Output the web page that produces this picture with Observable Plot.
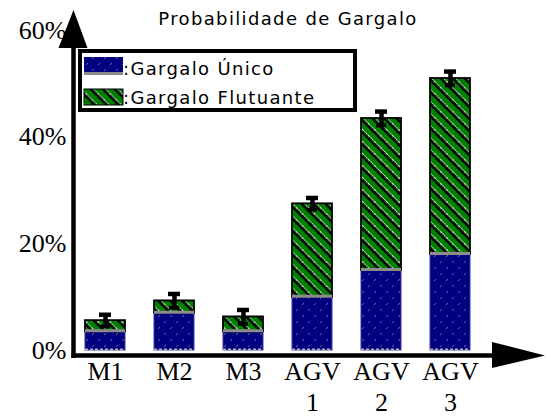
<!DOCTYPE html>
<html>
<head>
<meta charset="utf-8">
<script src="https://cdn.jsdelivr.net/npm/d3@7"></script>
<script src="https://cdn.jsdelivr.net/npm/@observablehq/plot@0.6"></script>
<style>
  html, body { margin: 0; padding: 0; background: #fff; }
  #chart { position: relative; width: 546px; height: 417px; }
</style>
</head>
<body>
<svg width="0" height="0" style="position:absolute">
  <defs>
    <pattern id="pBlue" width="12" height="12" patternUnits="userSpaceOnUse">
      <rect width="12" height="12" fill="#000080"/>
      <line x1="2" y1="5" x2="4" y2="3" stroke="#6a6a9a" stroke-width="1"/>
      <line x1="8" y1="11" x2="10" y2="9" stroke="#6a6a9a" stroke-width="1"/>
    </pattern>
    <pattern id="pGreen" width="8.5" height="8.5" patternUnits="userSpaceOnUse" patternTransform="rotate(-45)">
      <rect width="8.5" height="8.5" fill="#008000"/>
      <rect x="0" width="2.6" height="8.5" fill="#000"/>
      <line x1="3.2" y1="0" x2="3.2" y2="8.5" stroke="#fff" stroke-width="1.1" stroke-dasharray="1.2 1.2"/>
    </pattern>
  </defs>
</svg>
<div id="chart"></div>
<script>
const cats = ["M1", "M2", "M3", "AGV 1", "AGV 2", "AGV 3"];
const unico = [3.5, 7.0, 3.5, 10.0, 15.0, 18.0];
const flutuante = [2.1, 2.3, 2.8, 17.5, 28.5, 33.0];
const erro = [1.1, 1.3, 1.3, 1.1, 1.3, 1.3];
const yTicks = [0, 20, 40, 60];
const seriesNames = [":Gargalo Único", ":Gargalo Flutuante"];
const title = "Probabilidade de Gargalo";

const rows = cats.map((c, i) => ({cat: c, u: unico[i], f: flutuante[i], t: unico[i] + flutuante[i], e: erro[i]}));

const W = 546, H = 417;
const plot = Plot.plot({
  width: W, height: H,
  marginLeft: 73, marginRight: 63, marginTop: 30, marginBottom: 67,
  style: {fontFamily: "'Liberation Serif', 'Times New Roman', serif", fontSize: "26px", color: "#000", background: "#fff"},
  x: {domain: cats, paddingInner: 0.414, paddingOuter: 0.136},
  y: {domain: [0, 60]},
  marks: [
    Plot.barY(rows, {x: "cat", y1: d => 0, y2: "u", fill: "url(#pBlue)", stroke: "#3a3aa0", strokeWidth: 1}),
    Plot.tickY(rows, {x: "cat", y: d => 0, stroke: "#b0b0b0", strokeWidth: 2, strokeDasharray: "3 2", dy: -1}),
    Plot.barY(rows, {x: "cat", y1: "u", y2: "t", fill: "url(#pGreen)", stroke: "#000", strokeWidth: 1.8}),
    Plot.tickY(rows, {x: "cat", y: "u", stroke: "#8c8c8c", strokeWidth: 3, dy: -1}),
    Plot.ruleX(rows, {x: "cat", y1: d => d.t - d.e, y2: d => d.t + d.e, stroke: "#000", strokeWidth: 4.5}),
    Plot.tickY(rows, {x: "cat", y: d => d.t + d.e, stroke: "#000", strokeWidth: 4.5, inset: 14}),
    Plot.tickY(rows, {x: "cat", y: d => d.t - d.e, stroke: "#000", strokeWidth: 4, inset: 15}),
    Plot.axisY({ticks: yTicks, tickFormat: d => d + "%", tickSize: 0, tickPadding: 7, fontSize: 26, letterSpacing: 1, label: null}),
    Plot.axisX({tickSize: 0, tickPadding: 7, tickFormat: d => d.replace(" ", "\n"), lineHeight: 1.2, fontSize: 26, label: null})
  ]
});
document.getElementById("chart").appendChild(plot);

// decorations: axis lines with arrows, title, legend
const svg = d3.select(plot);
const ys = plot.scale("y");
const y0 = ys.apply(0);
const yTop = ys.apply(60);
const axX = 73.5;
const g = svg.append("g");
g.append("line").attr("x1", axX).attr("x2", axX).attr("y1", y0 + 8).attr("y2", yTop + 16)
  .attr("stroke", "#000").attr("stroke-width", 4.5);
g.append("polygon").attr("points", `${axX - 15},${yTop + 18} ${axX + 14},${yTop + 18} ${axX},${yTop - 20}`).attr("fill", "#000");
g.append("line").attr("x1", axX - 2).attr("x2", 496).attr("y1", y0 + 5.5).attr("y2", y0 + 5.5)
  .attr("stroke", "#000").attr("stroke-width", 4.5);
g.append("polygon").attr("points", `492,${y0 - 8} 492,${y0 + 18} 545,${y0 + 5.5}`).attr("fill", "#000");

svg.append("text").attr("x", 288).attr("y", 25).attr("text-anchor", "middle")
  .style("font-family", "'DejaVu Sans', sans-serif").style("font-size", "18px").style("letter-spacing", "1.35px")
  .attr("fill", "#000").text(title);

const lg = svg.append("g");
lg.append("rect").attr("x", 80).attr("y", 51).attr("width", 275).attr("height", 59)
  .attr("fill", "#fff").attr("stroke", "#000").attr("stroke-width", 4);
lg.append("rect").attr("x", 84).attr("y", 57).attr("width", 39).attr("height", 15).attr("fill", "url(#pBlue)");
lg.append("rect").attr("x", 84).attr("y", 72).attr("width", 39).attr("height", 3).attr("fill", "#8c8c8c");
lg.append("rect").attr("x", 84).attr("y", 89).attr("width", 39).attr("height", 16).attr("fill", "url(#pGreen)")
  .attr("stroke", "#000").attr("stroke-width", 1);
seriesNames.forEach((s, i) => {
  lg.append("text").attr("x", 123).attr("y", i === 0 ? 75 : 104).attr("text-anchor", "start")
    .style("font-family", "'DejaVu Sans', sans-serif").style("font-size", "18px").style("letter-spacing", "1.35px")
    .attr("fill", "#000").text(s);
});
</script>
</body>
</html>
